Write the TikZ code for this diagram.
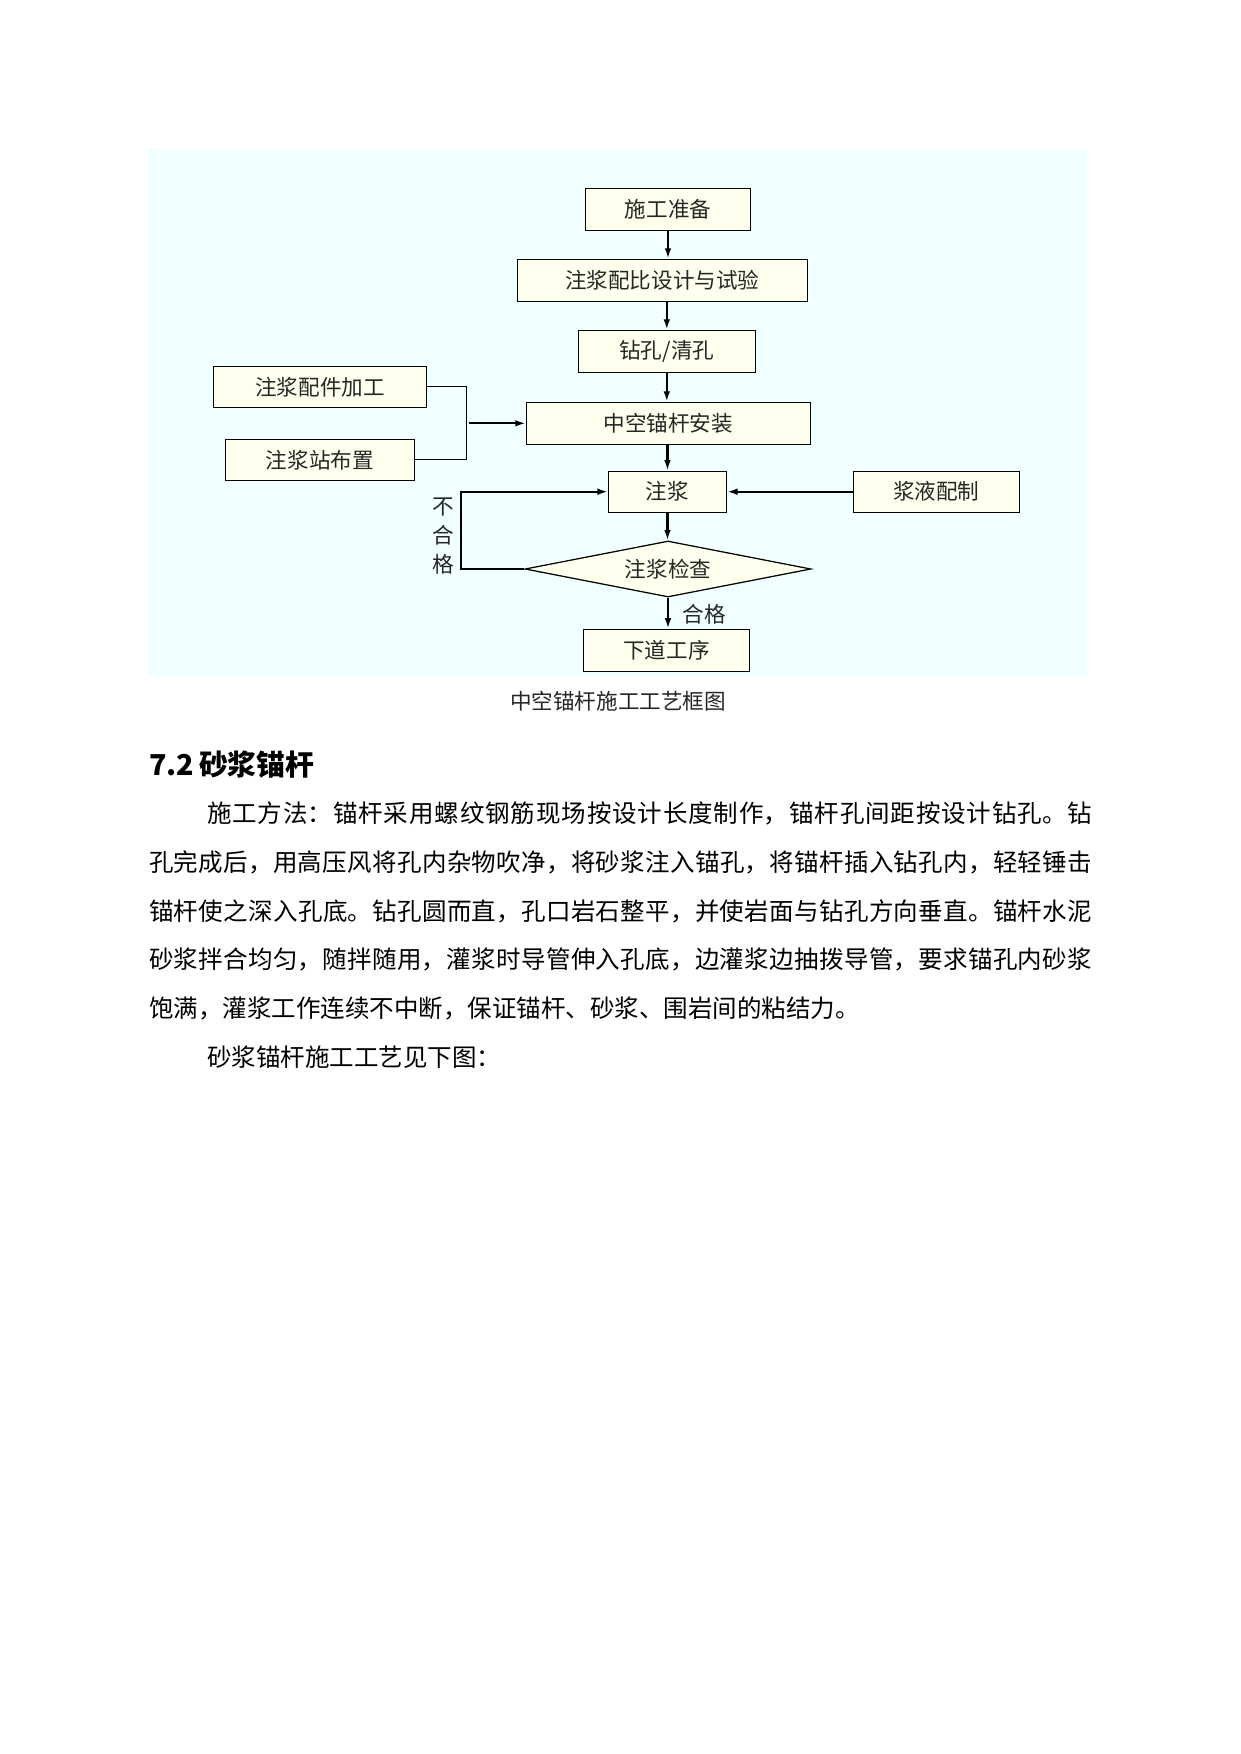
\documentclass[tikz,border=0pt]{standalone}
\usepackage{fontspec}
\setmainfont{Noto Sans CJK SC}
\usetikzlibrary{shapes.geometric,arrows.meta}
\XeTeXlinebreaklocale "zh"
\XeTeXlinebreakskip=0pt plus 4pt minus 0.3pt
\def\pxl{0.16925mm}
\definecolor{bgc}{RGB}{240,255,255}
\definecolor{boxfill}{RGB}{255,255,238}
\newcommand\boxfont{\fontsize{10.4pt}{12pt}\selectfont}
\newcommand\bodyfont{\fontsize{11.8pt}{14pt}\selectfont}
\newcommand\headfont{\fontsize{13.85pt}{16pt}\selectfont\bfseries}
\tikzset{
  wh/.style 2 args={minimum width=#1*\pxl, minimum height=#2*\pxl},
  box/.style={draw=black, line width=0.6pt, fill=boxfill, inner sep=0pt, font=\boxfont, text=black!85},
  dia/.style={diamond, aspect=5.1, draw=black, line width=0.6pt, fill=boxfill, inner sep=0pt, font=\boxfont, text=black!85},
  arr/.style={line width=1pt, -{Latex[length=5pt,width=3.2pt]}},
  thinline/.style={line width=0.6pt},
  lbl/.style={inner sep=0pt, font=\boxfont, text=black!85},
  jline/.style={anchor=base west, inner sep=0pt, text width=#1*\pxl, font=\bodyfont, align=justify},
  pline/.style={anchor=base west, inner sep=0pt, font=\bodyfont}
}
\begin{document}
\begin{tikzpicture}[x=0.16925mm, y=-0.16925mm]
\useasboundingbox (0,0) rectangle (1241,1754);
\fill[bgc] (148,149.3) rectangle (1086.7,676);
% flowchart nodes
\node[box, wh={165}{42}] (prep) at (668,209.3) {施工准备};
\node[box, wh={290}{42}] (design) at (662.3,280.3) {注浆配比设计与试验};
\node[box, wh={177}{42}] (drill) at (666.8,351.3) {钻孔/清孔};
\node[box, wh={284}{42}] (install) at (668.3,423.3) {中空锚杆安装};
\node[box, wh={118}{41}] (grout) at (667.5,491.7) {注浆};
\node[box, wh={166}{41}] (slurry) at (936.3,491.7) {浆液配制};
\node[dia, wh={286}{56}] (check) at (668,569) {注浆检查};
\node[box, wh={166}{42}] (next) at (666.5,650.2) {下道工序};
\node[box, wh={213.4}{41}] (parts) at (320,386.8) {注浆配件加工};
\node[box, wh={189}{41}] (station) at (319.8,459.8) {注浆站布置};
% connectors
\draw[arr] (prep.south) -- (prep.south |- design.north);
\draw[arr] (drill.north |- design.south) -- (drill.north);
\draw[arr] (drill.south) -- (drill.south |- install.north);
\draw[arr] (grout.north |- install.south) -- (grout.north);
\draw[arr] (grout.south) -- (grout.south |- check.north);
\draw[arr] (check.south) -- (check.south |- next.north);
\draw[arr] (slurry.west) -- (grout.east);
\coordinate (m) at (466.3,423.3);
\coordinate (m2) at (469.3,423.3);
\draw[thinline] (parts.east) -| (m) |- (station.east);
\draw[arr] (m2) -- (install.west);
\coordinate (lc) at (460.7,491.7);
\draw[arr] (check.west) -| (lc) -- (grout.west);
% labels
\node[lbl, align=center, font=\fontsize{10.4pt}{14pt}\selectfont] (ng) at (443.3,536) {不\\合\\格};
\node[lbl] (ok) at (704,614) {合格};
\node[lbl] (cap) at (618,701) {中空锚杆施工工艺框图};
% text
\node[anchor=base west, inner sep=0pt, font=\headfont] (head) at (148.7,775.6) {7.2\,砂浆锚杆};
\node[jline=885] (l1) at (206.7,822.6) {\parfillskip=0pt 施工方法：锚杆采用螺纹钢筋现场按设计长度制作，锚杆孔间距按设计钻孔。钻\par};
\node[jline=943] (l2) at (148.7,871.3) {\parfillskip=0pt 孔完成后，用高压风将孔内杂物吹净，将砂浆注入锚孔，将锚杆插入钻孔内，轻轻锤击\par};
\node[jline=943] (l3) at (148.7,920.0) {\parfillskip=0pt 锚杆使之深入孔底。钻孔圆而直，孔口岩石整平，并使岩面与钻孔方向垂直。锚杆水泥\par};
\node[jline=943] (l4) at (148.7,968.7) {\parfillskip=0pt 砂浆拌合均匀，随拌随用，灌浆时导管伸入孔底，边灌浆边抽拨导管，要求锚孔内砂浆\par};
\node[pline] (l5) at (148.7,1017.4) {饱满，灌浆工作连续不中断，保证锚杆、砂浆、围岩间的粘结力。};
\node[pline] (l6) at (206.7,1066.1) {砂浆锚杆施工工艺见下图：};
\end{tikzpicture}
\end{document}
